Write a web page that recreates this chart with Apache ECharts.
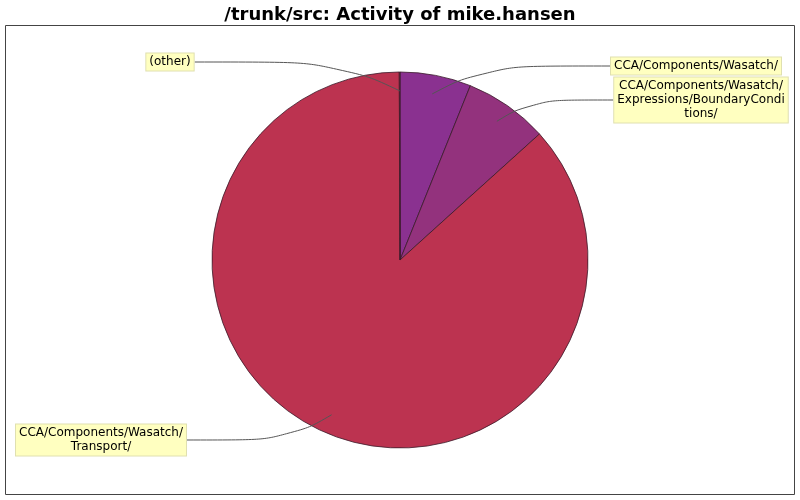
<!DOCTYPE html>
<html>
<head>
<meta charset="utf-8">
<script src="https://cdn.jsdelivr.net/npm/echarts@6/dist/echarts.min.js"></script>
<style>
html,body{margin:0;padding:0;background:#fff;}
#c1{width:800px;height:500px;}
</style>
</head>
<body>
<div id="c1"></div>
<script>
// directories and their share of commits
var dirs = ['CCA/Components/Wasatch/', 'CCA/Components/Wasatch/\nExpressions/BoundaryCondi\ntions/', 'CCA/Components/Wasatch/\nTransport/', '(other)'];
var commits = [61, 72, 866, 0.6];
var colors = ['#8a3190', '#93327d', '#bc3350', '#bc3350'];
// where each label box sits (center)
var labelPos = [[696, 66], [701, 100], [101, 440], [170, 62]];

var cx = 400, cy = 260, R = 188;
var myChart = echarts.init(document.getElementById('c1'));

var total = 0;
for (var i = 0; i < commits.length; i++) total += commits[i];
// mid angle of every slice, clockwise from 12 o'clock
var midAng = [];
var acc = 0;
for (var i = 0; i < commits.length; i++) {
	midAng[i] = (acc + commits[i] / 2) / total * Math.PI * 2;
	acc += commits[i];
}

var pieData = [];
var labelData = [];
for (var i = 0; i < dirs.length; i++) {
	pieData.push({ name: dirs[i], value: commits[i], itemStyle: { color: colors[i] } });
	labelData.push({ name: dirs[i], value: commits[i] });
}

var option = {
	animation: false,
	title: {
		text: '/trunk/src: Activity of mike.hansen',
		left: 'center',
		top: 1,
		textStyle: { fontFamily: 'DejaVu Sans', fontSize: 18, fontWeight: 'bold', color: '#000' }
	},
	graphic: [{
		type: 'rect',
		shape: { x: 5.5, y: 25.5, width: 789, height: 469 },
		style: { fill: 'none', stroke: '#444', lineWidth: 1 }
	}],
	series: [{
		// the slices
		type: 'pie',
		z: 2,
		center: [cx, cy],
		radius: R,
		startAngle: 90,
		clockwise: true,
		itemStyle: { borderColor: '#3a1a2a', borderWidth: 0.8 },
		label: { show: false },
		labelLine: { show: false },
		emphasis: { disabled: true },
		data: pieData
	}, {
		// same data again, only for labels, so the lines sit above the slices
		type: 'pie',
		z: 5,
		center: [cx, cy],
		radius: R,
		startAngle: 90,
		clockwise: true,
		silent: true,
		avoidLabelOverlap: false,
		minShowLabelAngle: 0,
		itemStyle: { color: 'rgba(0,0,0,0)', borderWidth: 0 },
		label: {
			show: true,
			position: 'outside',
			fontFamily: 'DejaVu Sans',
			fontSize: 12,
			lineHeight: 14,
			color: '#000',
			align: 'center',
			backgroundColor: '#ffffc0',
			borderColor: '#e0e0b0',
			borderWidth: 1,
			padding: [2, 3, 1, 3]
		},
		labelLine: {
			show: true,
			smooth: 0.5,
			length: 20,
			length2: 20,
			lineStyle: { color: '#555', width: 1 }
		},
		labelLayout: function (params) {
			var k = params.dataIndex;
			var p = labelPos[k];
			var w = params.labelRect.width;
			// start the line a bit inside the slice, like the original
			var a = midAng[k];
			var s = [cx + Math.sin(a) * R * 0.9, cy - Math.cos(a) * R * 0.9];
			var endX = p[0] > cx ? p[0] - w / 2 : p[0] + w / 2;
			var mid = [s[0] + (endX - s[0]) * 0.3, p[1]];
			return {
				x: p[0], y: p[1], align: 'center', verticalAlign: 'middle',
				labelLinePoints: [s, mid, [endX, p[1]]]
			};
		},
		emphasis: { disabled: true },
		data: labelData
	}]
};
myChart.setOption(option);
</script>
</body>
</html>
